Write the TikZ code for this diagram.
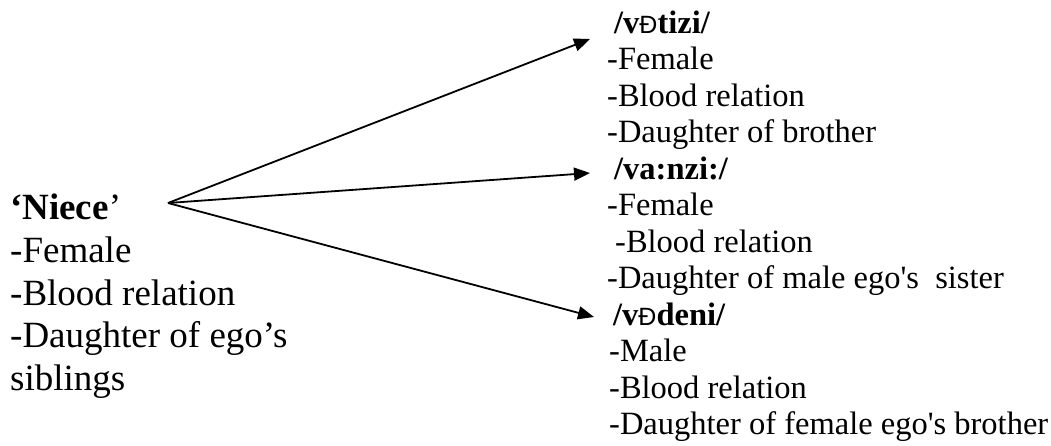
\documentclass[tikz,border=0pt]{standalone}
\usepackage{fontspec}
\setmainfont{Liberation Serif}
\newfontfamily\ethfamily{Liberation Sans}
\usetikzlibrary{arrows.meta,calc}
% the eth letter in the transcriptions is set in a smaller sans face
\newcommand{\ethglyph}{{\ethfamily\mdseries\fontsize{25}{25}\selectfont Ð}}
% straight apostrophe
\newcommand{\sq}{\textquotesingle}

\begin{document}
\begin{tikzpicture}[x=1pt,y=-1pt,
  big/.style={inner sep=0pt, anchor=base west, font=\fontsize{37}{42.75}\selectfont},
  small/.style={inner sep=0pt, anchor=base west, font=\fontsize{32.5}{36.5}\selectfont},
  term/.style={small, font=\fontsize{32.5}{36.5}\selectfont\bfseries},
  link/.style={line width=1.8pt, -{Triangle[length=16pt,width=13pt]}}]
\useasboundingbox (0,0) rectangle (1051,445);

% general term
\node[big] (niece) at (10,219) {{\bfseries ‘Niece}’};
\node[big] (n1) at (10,262) {-Female};
\node[big] (n2) at (10,305) {-Blood relation};
\node[big] (n3) at (10,347) {-Daughter of ego’s};
\node[big] (n4) at (10,390) {siblings};

% first specific term
\node[term]  (t1)  at (614,33)    {/v\ethglyph tizi/};
\node[small] (a1)  at (607,69.5)  {-Female};
\node[small] (a2)  at (607,106)   {-Blood relation};
\node[small] (a3)  at (607,142.5) {-Daughter of brother};

% second specific term
\node[term]  (t2)  at (614,179)   {/va:nzi:/};
\node[small] (b1)  at (607,215.5) {-Female};
\node[small] (b2)  at (615,252)   {-Blood relation};
\node[small] (b3)  at (607,288.5) {-Daughter of male ego\sq s\ \ sister};

% third specific term
\node[term]  (t3)  at (613,325)   {/v\ethglyph deni/};
\node[small] (c1)  at (609,361.5) {-Male};
\node[small] (c2)  at (609,398)   {-Blood relation};
\node[small] (c3)  at (609,434.5) {-Daughter of female ego\sq s brother};

% fan of arrows
\coordinate (root) at (168,203);
\draw[link] (root) -- ($(t1.base west)+(-24,6)$);
\draw[link] (root) -- ($(t2.base west)+(-24,-6)$);
\draw[link] (root) -- ($(t3.base west)+(-19,-8)$);
\end{tikzpicture}
\end{document}
